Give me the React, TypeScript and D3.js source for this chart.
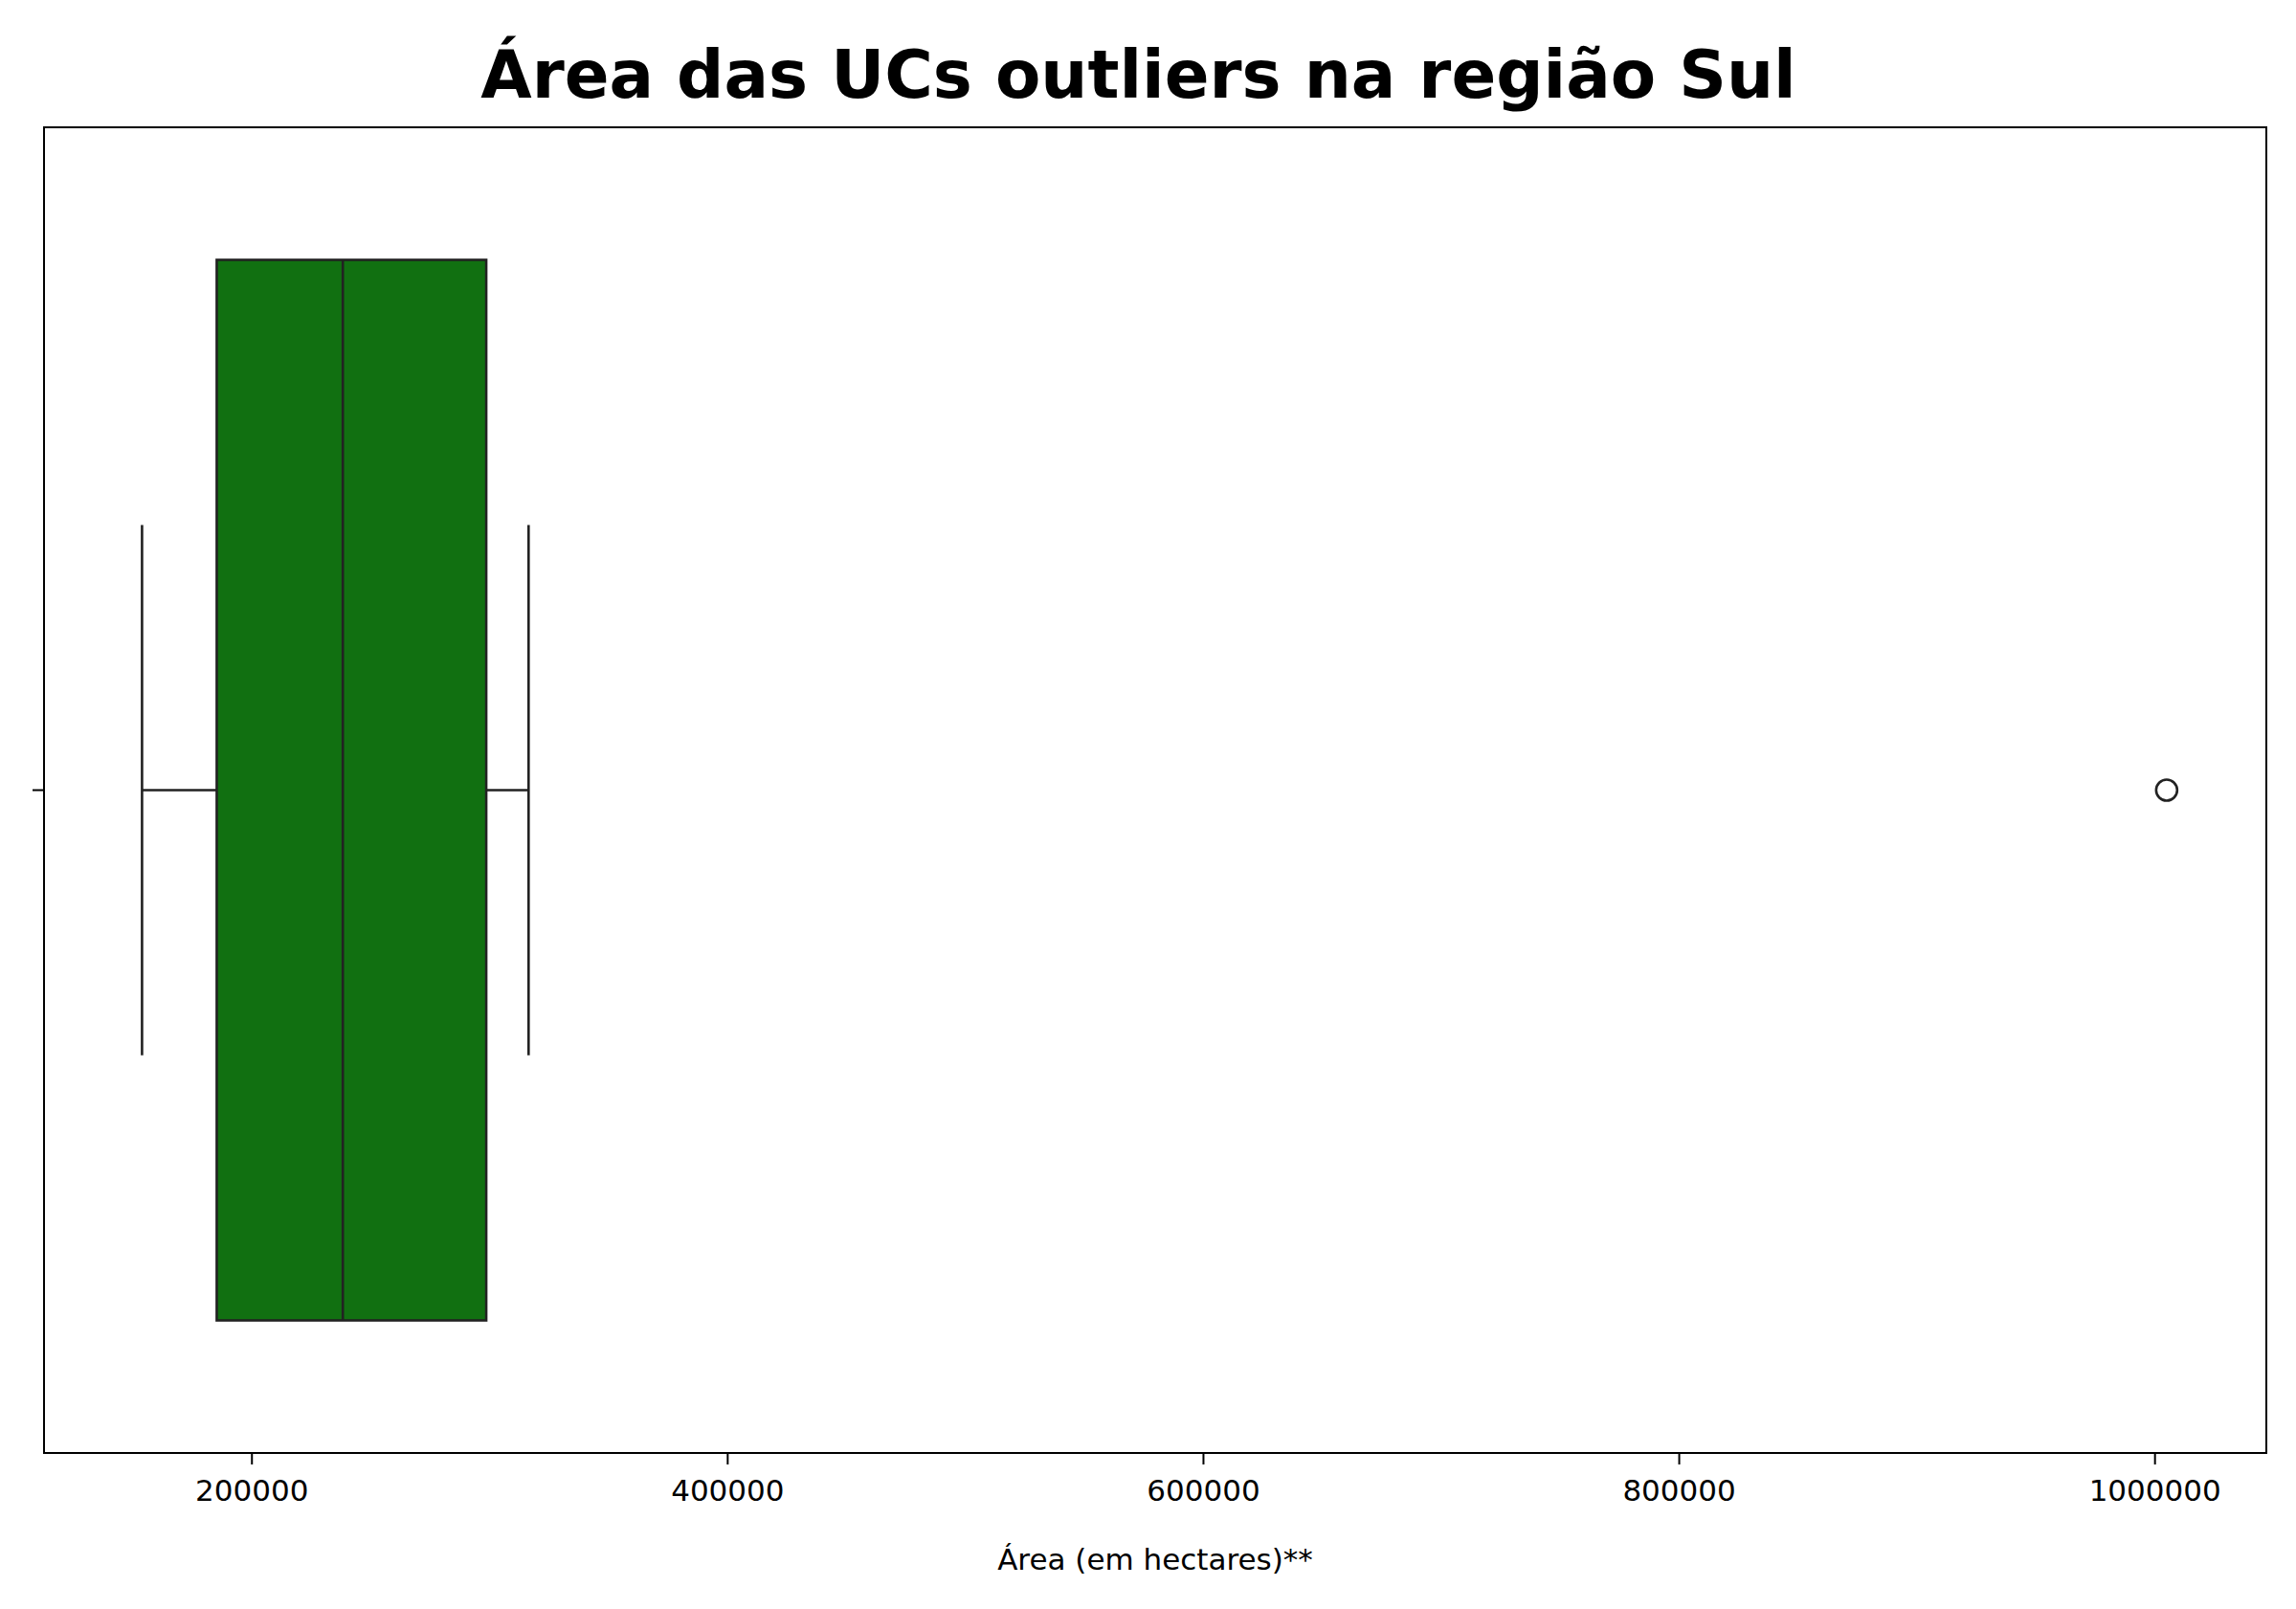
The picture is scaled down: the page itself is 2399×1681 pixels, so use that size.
import React from "react";
import * as d3 from "d3";

const category = [""];
const stats = { whiskerLow: 153800, q1: 185200, median: 238200, q3: 298500, whiskerHigh: 316300 };
const outliers = [1004900];
const xTicks = [200000, 400000, 600000, 800000, 1000000];

const W = 2399;
const H = 1681;
const margin = { top: 133, right: 31, bottom: 163, left: 46 };
const font = "DejaVu Sans, sans-serif";

const App: React.FC = () => {
  const x = d3.scaleLinear().domain([112600, 1046800]).range([margin.left, W - margin.right]);
  const y = d3.scaleBand().domain(category).range([margin.top, H - margin.bottom]);
  const cy = (y("") ?? 0) + y.bandwidth() / 2;
  const boxH = y.bandwidth() * 0.8;
  const capH = y.bandwidth() * 0.4;
  const stroke = "#222";
  const sw = 2.6;

  return (
    <svg width={W} height={H} style={{ position: "absolute", top: 0, left: 0, background: "#fff" }} fontFamily={font}>
      <text x={W / 2 - 10} y={102} textAnchor="middle" fontSize={69} fontWeight="bold">
        Área das UCs outliers na região Sul
      </text>
      {/* whiskers */}
      <line x1={x(stats.whiskerLow)} x2={x(stats.q1)} y1={cy} y2={cy} stroke={stroke} strokeWidth={sw} />
      <line x1={x(stats.q3)} x2={x(stats.whiskerHigh)} y1={cy} y2={cy} stroke={stroke} strokeWidth={sw} />
      <line x1={x(stats.whiskerLow)} x2={x(stats.whiskerLow)} y1={cy - capH / 2} y2={cy + capH / 2} stroke={stroke} strokeWidth={sw} />
      <line x1={x(stats.whiskerHigh)} x2={x(stats.whiskerHigh)} y1={cy - capH / 2} y2={cy + capH / 2} stroke={stroke} strokeWidth={sw} />
      <rect x={x(stats.q1)} y={cy - boxH / 2} width={x(stats.q3) - x(stats.q1)} height={boxH} fill="#117011" stroke={stroke} strokeWidth={sw} />
      <line x1={x(stats.median)} x2={x(stats.median)} y1={cy - boxH / 2} y2={cy + boxH / 2} stroke={stroke} strokeWidth={sw} />
      {outliers.map((v, i) => (
        <circle key={i} cx={x(v)} cy={cy} r={11} fill="none" stroke={stroke} strokeWidth={sw} />
      ))}
      {/* frame */}
      <rect x={margin.left} y={margin.top} width={W - margin.left - margin.right} height={H - margin.top - margin.bottom} fill="none" stroke="#000" strokeWidth={2} />
      {/* y tick */}
      <line x1={margin.left - 12} x2={margin.left} y1={cy} y2={cy} stroke="#000" strokeWidth={2} />
      {xTicks.map((t) => (
        <g key={t} transform={`translate(${x(t)},${H - margin.bottom})`}>
          <line y2={12} stroke="#000" strokeWidth={2} />
          <text y={50} textAnchor="middle" fontSize={31}>{t}</text>
        </g>
      ))}
      <text x={(margin.left + W - margin.right) / 2} y={1640} textAnchor="middle" fontSize={31}>
        Área (em hectares)**
      </text>
    </svg>
  );
};

export default App;
